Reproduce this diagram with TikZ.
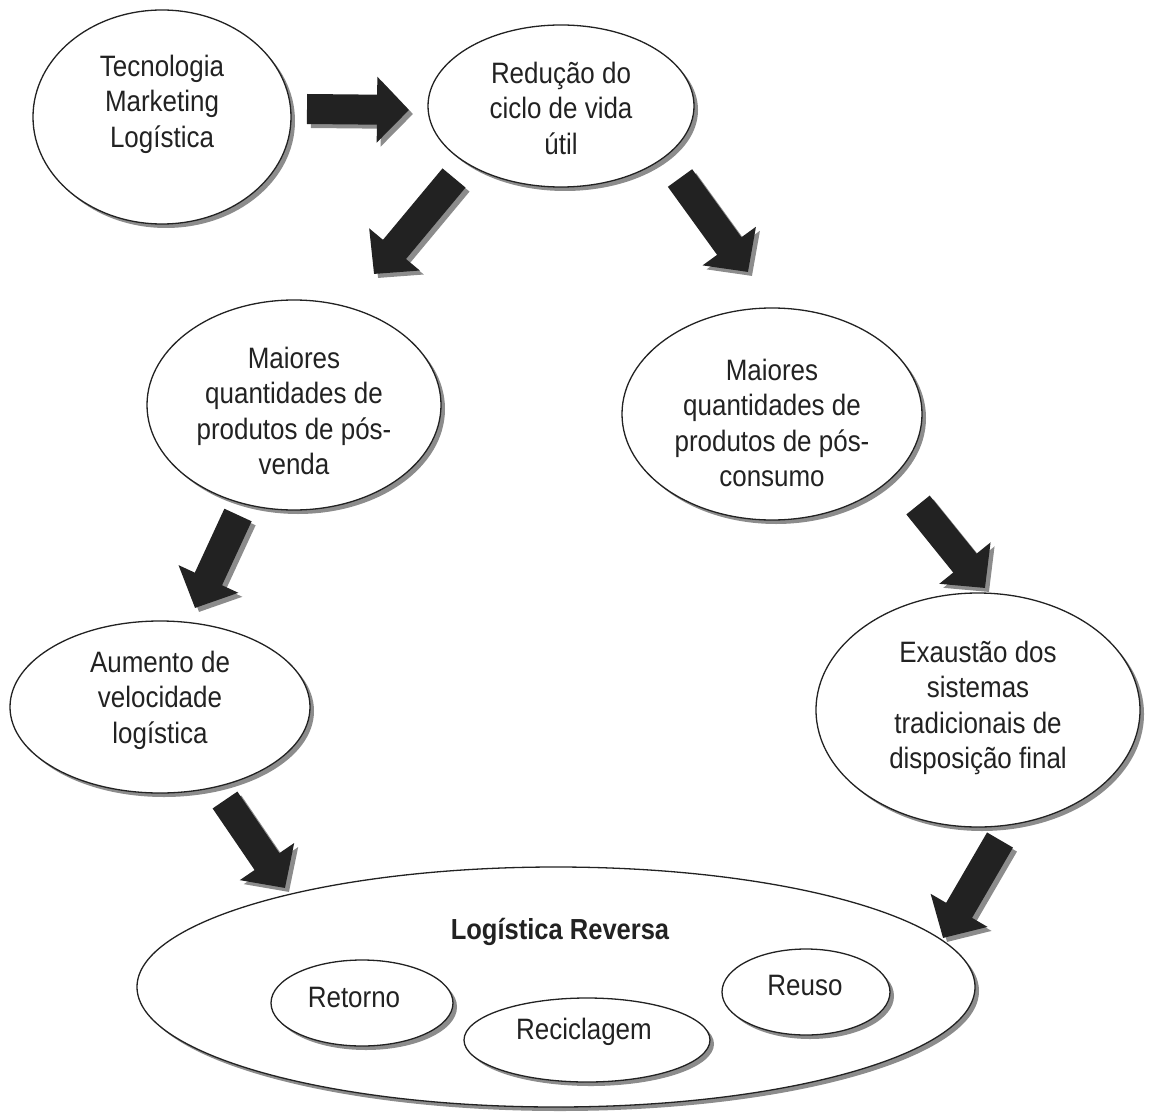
\documentclass[tikz,border=0pt]{standalone}
\usepackage{fontspec}
\setmainfont{Liberation Sans}[FakeStretch=0.88]
\usetikzlibrary{arrows.meta,shadows,shapes.geometric}
\definecolor{ink}{HTML}{222222}
\definecolor{shade}{HTML}{8C8C8C}
\begin{document}
\begin{tikzpicture}[x=1pt,y=-1pt,
  oval/.style={ellipse, draw=ink, line width=1.3pt, fill=white, inner sep=0pt,
    drop shadow={shadow xshift=4pt,shadow yshift=-4pt,fill=shade,opacity=1}},
  txt/.style={align=center, text=ink, inner sep=0pt, font=\fontsize{29.5}{35.5}\selectfont},
  bigarrow/.style={draw=ink, line width=30pt, -{Triangle[length=32pt,width=64pt]}},
  arrowshadow/.style={draw=shade, line width=30pt, -{Triangle[length=32pt,width=64pt]},
    transform canvas={xshift=4pt,yshift=-4pt}}]
\useasboundingbox (0,0) rectangle (1150,1115);

% ellipses
\node[oval, minimum width=258pt, minimum height=214pt] (tec) at (162,117) {};
\node[oval, minimum width=266pt, minimum height=162pt] (red) at (561,106) {};
\node[oval, minimum width=294pt, minimum height=210pt] (venda) at (294,405) {};
\node[oval, minimum width=300pt, minimum height=212pt] (cons) at (772,414) {};
\node[oval, minimum width=300pt, minimum height=172pt] (aum) at (160,707) {};
\node[oval, minimum width=324pt, minimum height=234pt] (exa) at (978,710) {};
\node[oval, minimum width=838pt, minimum height=240pt] (lr) at (556,987) {};
\node[oval, minimum width=182pt, minimum height=86pt] (ret) at (362,1003) {};
\node[oval, minimum width=246pt, minimum height=84pt] (rec) at (587,1040) {};
\node[oval, minimum width=168pt, minimum height=86pt] (reu) at (806,992) {};

% texts
\node[txt] (tect) at (162,104) {Tecnologia\\Marketing\\Logística};
\node[txt] (redt) at (561,108) {Redução do\\ciclo de vida\\útil};
\node[txt] (vendat) at (294,411) {Maiores\\quantidades de\\produtos de pós-\\venda};
\node[txt] (const) at (772,423) {Maiores\\quantidades de\\produtos de pós-\\consumo};
\node[txt] (aumt) at (160,700) {Aumento de\\velocidade\\logística};
\node[txt] (exat) at (978,708) {Exaustão dos\\sistemas\\tradicionais de\\disposição final};
\node[txt, font=\fontsize{29}{34}\selectfont\bfseries] (lrt) at (560,932) {Logística Reversa};
\node[txt] (rett) at (354,997) {Retorno};
\node[txt] (rect) at (584,1032) {Reciclagem};
\node[txt] (reut) at (805,985) {Reuso};

% arrow end points
\coordinate (a1s) at (307,109); \coordinate (a1e) at (409,110);
\coordinate (a2s) at (454,178); \coordinate (a2e) at (374,274);
\coordinate (a3s) at (680,178); \coordinate (a3e) at (748,272);
\coordinate (a4s) at (238,515); \coordinate (a4e) at (195,608);
\coordinate (a5s) at (918,505); \coordinate (a5e) at (985,588);
\coordinate (a6s) at (225,800); \coordinate (a6e) at (285,888);
\coordinate (a7s) at (1000,840); \coordinate (a7e) at (943,938);

\foreach \a in {a1,a2,a3,a4,a5,a6,a7}{
  \draw[arrowshadow] (\a s) -- (\a e);
  \draw[bigarrow] (\a s) -- (\a e);
}
\end{tikzpicture}
\end{document}
